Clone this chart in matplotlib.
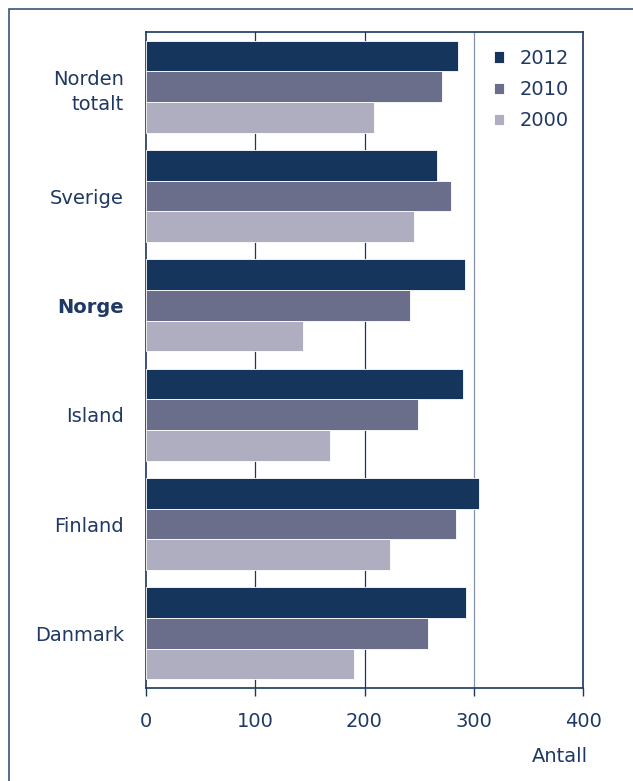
import matplotlib.pyplot as plt
import matplotlib.transforms as mtransforms
import numpy as np
from matplotlib.patches import Rectangle

# data (top to bottom)
countries = ['Norden\ntotalt', 'Sverige', 'Norge', 'Island', 'Finland', 'Danmark']
years = ['2012', '2010', '2000']
v2012 = [286, 266, 292, 290, 305, 293]
v2010 = [271, 279, 242, 249, 284, 258]
v2000 = [209, 245, 144, 168, 223, 190]
xticks = [0, 100, 200, 300, 400]

navy = '#1b3660'
colors = ['#15355c', '#6b6e8b', '#aeaec0']
txt = '#1f3864'

fig = plt.figure(figsize=(6.33, 7.81), dpi=100)
ax = fig.add_axes([146 / 633, 1 - 688 / 781, 437 / 633, 656 / 781])

# outer frame of the figure (right and bottom edges fall outside the image)
fig.patches.append(Rectangle((9 / 633, -0.1), 1.5, 1 - 9 / 781 + 0.1,
                             transform=fig.transFigure, fill=False,
                             edgecolor='#3a5478', linewidth=1.2))

n = len(countries)
y = np.arange(n)[::-1].astype(float)
h = 0.28
for i, (vals, lab) in enumerate(zip([v2012, v2010, v2000], years)):
    ax.barh(y + h - i * h, vals, height=h, color=colors[i], label=lab,
            edgecolor='white', linewidth=0.6, zorder=3)

ax.set_xlim(0, 400)
ax.set_ylim(-0.5, n - 0.5)
ax.set_xticks(xticks)
ax.set_xticklabels([str(t) for t in xticks], color=txt, fontsize=14)
ax.set_yticks(y)
ax.set_yticklabels(countries, color=txt, fontsize=14, linespacing=1.4)
for lab in ax.get_yticklabels():
    if lab.get_text() == 'Norge':
        lab.set_fontweight('bold')
    if '\n' in lab.get_text():
        # two-line label sits a little above the group centre
        lab.set_transform(lab.get_transform() + mtransforms.ScaledTranslation(
            0, 6 / 72, fig.dpi_scale_trans))
ax.tick_params(axis='y', length=0, pad=16)
ax.tick_params(axis='x', length=6, width=1, color=navy, pad=11)

for s in ax.spines.values():
    s.set_color(navy)
    s.set_linewidth(1.2)

for t in [100, 200]:
    ax.axvline(t, color=navy, linewidth=0.9, zorder=1)
ax.axvline(300, color='#8592a8', linewidth=0.9, zorder=1)

leg = ax.legend(loc='upper right', frameon=False, fontsize=14,
                handlelength=0.5, handleheight=0.5, handletextpad=0.8,
                labelspacing=0.63, bbox_to_anchor=(0.998, 0.995),
                borderaxespad=0.3)
for t in leg.get_texts():
    t.set_color(txt)

fig.text(588 / 633, 1 - 756 / 781, 'Antall', ha='right', va='center',
         color=txt, fontsize=14)

plt.savefig('out.png', dpi=100)
